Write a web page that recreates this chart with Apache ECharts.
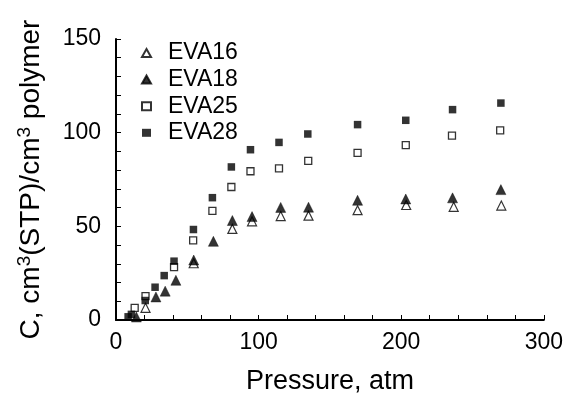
<!DOCTYPE html>
<html>
<head>
<meta charset="utf-8">
<script src="https://cdn.jsdelivr.net/npm/echarts@6/dist/echarts.min.js"></script>
<style>html,body{margin:0;padding:0;background:#fff}#c{width:566px;height:409px}</style>
</head>
<body>
<div id="c"></div>
<script>
// Data
const seriesNames = ['EVA16', 'EVA18', 'EVA25', 'EVA28'];

const pEVA16 = [20.7, 54.5, 81.6, 95.4, 115.5, 135, 169.4, 203.5, 236.8, 270.2];
const cEVA16 = [6.5, 30.3, 48.6, 52.7, 55.5, 55.7, 58.6, 61.4, 60.4, 61.1];

const pEVA18 = [14.3, 28, 34.5, 42, 54.5, 68.3, 81.6, 95.4, 115.5, 135, 169.4, 203.2, 236, 269.9];
const cEVA18 = [1.6, 12.3, 15.4, 21.2, 32, 42, 53.1, 55.2, 60.1, 60.2, 63.9, 64.6, 65.2, 69.6];

const pEVA25 = [13.1, 20.7, 40.7, 54.1, 67.6, 80.9, 94.3, 114.3, 134.8, 169.4, 203.2, 235.6, 269.4];
const cEVA25 = [6.5, 12.7, 28.2, 42.5, 58.3, 71.0, 79.4, 80.9, 84.9, 89.2, 93.4, 98.4, 101.2];

const pEVA28 = [8.5, 10.8, 20.5, 27.4, 33.8, 40.7, 54.3, 67.6, 80.9, 94.3, 114.3, 134.5, 169.4, 203.2, 236, 269.9];
const cEVA28 = [1.7, 3.0, 10.4, 17.5, 23.7, 31.4, 48.3, 65.3, 81.7, 90.9, 94.8, 99.3, 104.3, 106.6, 112.3, 115.8];

const xTickLabels = [0, 100, 200, 300];
const yTickLabels = [0, 50, 100, 150];

const FONT = 'Liberation Sans, Arial, sans-serif';
const pair = (xs, ys) => xs.map((x, i) => [x, ys[i]]);

const styles = {
  EVA16: { symbol: 'triangle', symbolSize: 9, itemStyle: { color: '#fff', borderColor: '#000', borderWidth: 1.2 } },
  EVA18: { symbol: 'triangle', symbolSize: 10, itemStyle: { color: '#000', borderColor: '#000', borderWidth: 0.5 } },
  EVA25: { symbol: 'rect', symbolSize: 7, itemStyle: { color: '#fff', borderColor: '#000', borderWidth: 1.3 } },
  EVA28: { symbol: 'rect', symbolSize: 7.5, itemStyle: { color: '#000', borderColor: '#000', borderWidth: 0 } }
};
const dataMap = {
  EVA16: pair(pEVA16, cEVA16),
  EVA18: pair(pEVA18, cEVA18),
  EVA25: pair(pEVA25, cEVA25),
  EVA28: pair(pEVA28, cEVA28)
};

const chart = echarts.init(document.getElementById('c'), null, { renderer: 'canvas' });
chart.setOption({
  animation: false,
  backgroundColor: '#fff',
  grid: { left: 116, right: 16, top: 39, bottom: 89 },
  legend: {
    orient: 'vertical',
    left: 136,
    top: 35,
    itemWidth: 9,
    itemHeight: 8,
    itemGap: 0.6,
    textStyle: { fontFamily: FONT, fontSize: 23, color: '#000', lineHeight: 26, padding: [0, 0, 0, 12] },
    data: seriesNames
  },
  xAxis: {
    type: 'value',
    min: 0, max: 300, interval: 20,
    name: 'Pressure, atm',
    nameLocation: 'middle',
    nameGap: 48,
    nameTextStyle: { fontFamily: FONT, fontSize: 27, color: '#000' },
    axisLine: { show: true, lineStyle: { color: '#000', width: 2 } },
    axisTick: { show: true, inside: true, length: 5, lineStyle: { color: '#000', width: 1 } },
    axisLabel: {
      margin: 11, fontFamily: FONT, fontSize: 23, color: '#000',
      formatter: v => (xTickLabels.indexOf(v) >= 0 ? String(v) : '')
    },
    splitLine: { show: false }
  },
  yAxis: {
    type: 'value',
    min: 0, max: 150, interval: 10,
    name: '{n|C, cm}{sup|3}{n|(STP)/cm}{sup|3}{n|\u00a0polymer}',
    nameLocation: 'middle',
    nameGap: 71,
    nameTextStyle: {
      fontFamily: FONT, fontSize: 28, color: '#000',
      rich: {
        n: { fontFamily: FONT, fontSize: 28, lineHeight: 30, color: '#000', verticalAlign: 'bottom' },
        sup: { fontFamily: FONT, fontSize: 19, lineHeight: 30, color: '#000', verticalAlign: 'top', padding: [0, 0, 10, 0] }
      }
    },
    axisLine: { show: true, lineStyle: { color: '#000', width: 2 } },
    axisTick: { show: true, inside: true, length: 5, lineStyle: { color: '#000', width: 1 } },
    axisLabel: {
      margin: 15, fontFamily: FONT, fontSize: 23, color: '#000',
      formatter: v => (yTickLabels.indexOf(v) >= 0 ? String(v) : '')
    },
    splitLine: { show: false }
  },
  series: seriesNames.map(n => ({
    name: n,
    type: 'scatter',
    data: dataMap[n],
    symbol: styles[n].symbol,
    symbolSize: styles[n].symbolSize,
    itemStyle: styles[n].itemStyle,
    emphasis: { disabled: true }
  }))
});
</script>
</body>
</html>
